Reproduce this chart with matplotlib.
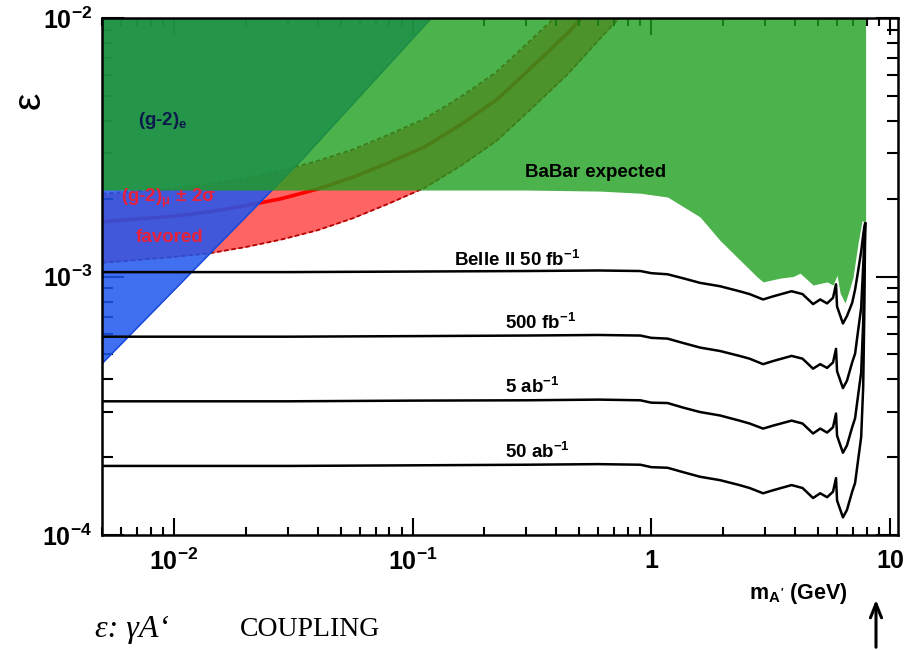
import numpy as np
import matplotlib
matplotlib.use("Agg")
import matplotlib.pyplot as plt
from matplotlib.ticker import LogLocator, NullFormatter, FixedLocator, FixedFormatter

plt.rcParams['font.family'] = ['Liberation Sans', 'DejaVu Sans']
plt.rcParams['mathtext.fontset'] = 'custom'
plt.rcParams['mathtext.rm'] = 'Liberation Sans:bold'
plt.rcParams['mathtext.it'] = 'Liberation Sans:bold'
plt.rcParams['mathtext.bf'] = 'Liberation Sans:bold'

# Belle II sensitivity curves (epsilon vs dark photon mass in GeV)
belle_mass = [0.005, 0.01, 0.03, 0.1, 0.3, 0.6, 0.9, 1.0, 1.17, 1.36, 1.6, 1.94,
              2.34, 2.58, 2.94, 3.24, 3.87, 4.3, 4.76, 5.1, 5.45, 5.77, 5.94, 6.0,
              6.35, 6.6, 6.94, 7.14, 7.35, 7.57, 7.72, 7.8, 7.87]
belle_50fb = [10.4, 10.4, 10.4, 10.45, 10.5, 10.55, 10.5, 10.3, 10.2, 9.84, 9.45, 9.17,
              8.77, 8.55, 8.15, 8.38, 8.77, 8.55, 7.82, 8.15, 7.87, 8.27, 9.33, 7.65,
              6.58, 7.03, 7.9, 8.9, 10.5, 12.5, 14.5, 15.5, 16.0]
belle_500fb = [5.85, 5.85, 5.85, 5.88, 5.91, 5.94, 5.91, 5.79, 5.75, 5.53, 5.31, 5.15,
               4.93, 4.81, 4.58, 4.71, 4.93, 4.81, 4.40, 4.58, 4.43, 4.65, 5.25, 4.30,
               3.70, 3.95, 4.65, 5.03, 6.17, 7.56, 11.0, 13.5, 16.0]
belle_5ab = [3.29, 3.29, 3.29, 3.31, 3.32, 3.34, 3.32, 3.25, 3.24, 3.11, 2.99, 2.90,
             2.77, 2.70, 2.58, 2.65, 2.77, 2.70, 2.47, 2.58, 2.49, 2.61, 2.95, 2.42,
             2.08, 2.22, 2.61, 2.83, 3.47, 4.25, 6.65, 10.5, 16.0]
belle_50ab = [1.85, 1.85, 1.85, 1.86, 1.87, 1.88, 1.87, 1.83, 1.82, 1.75, 1.68, 1.63,
              1.56, 1.52, 1.45, 1.49, 1.56, 1.52, 1.39, 1.45, 1.40, 1.47, 1.66, 1.36,
              1.17, 1.25, 1.47, 1.59, 1.95, 2.39, 3.74, 7.0, 16.0]

# BaBar expected exclusion (lower boundary, x1e-3)
babar_mass = [0.005, 0.1, 0.3, 0.61, 0.9, 1.17, 1.6, 1.94, 2.2, 2.78, 2.94, 3.47,
              3.93, 4.2, 4.76, 5.45, 5.77, 6.0, 6.18, 6.48, 6.81, 7.0, 7.35, 7.64, 7.9]
babar_eps = [2.16, 2.16, 2.16, 2.14, 2.10, 2.03, 1.70, 1.38, 1.23, 0.995, 0.953, 0.986,
             1.0, 1.03, 0.927, 0.953, 0.927, 1.01, 0.863, 0.789, 0.91, 0.995, 1.35, 1.65, 1.6]

# (g-2)_e exclusion boundary
g2e_mass = [0.005, 0.034, 0.12]
g2e_eps = [4.6e-4, 2.8e-3, 1.0e-2]

# (g-2)_mu +-2 sigma favored band (x1e-3)
g2mu_mass = [0.005, 0.01, 0.0141, 0.02, 0.0282, 0.04, 0.0562, 0.079, 0.112, 0.158,
             0.224, 0.316, 0.447, 0.63, 0.79]
g2mu_mid = [1.63, 1.71, 1.78, 1.88, 2.00, 2.18, 2.42, 2.75, 3.17, 3.85, 4.81, 6.46,
            8.75, 12.4, 15.5]
g2mu_hi = [2.09, 2.19, 2.28, 2.41, 2.57, 2.80, 3.10, 3.53, 4.07, 4.94, 6.17, 8.29,
           11.2, 15.9, 19.9]
g2mu_lo = [1.13, 1.19, 1.23, 1.30, 1.39, 1.51, 1.68, 1.91, 2.20, 2.67, 3.34, 4.48,
           6.07, 8.6, 10.75]

x_ticks = [0.01, 0.1, 1, 10]
x_ticklabels = ['$10^{-2}$', '$10^{-1}$', '$1$', '$10$']
y_ticks = [1e-4, 1e-3, 1e-2]
y_ticklabels = ['$10^{-4}$', '$10^{-3}$', '$10^{-2}$']

fig = plt.figure(figsize=(9.14, 6.5), dpi=100)
ax = fig.add_axes([102 / 914, 1 - 535 / 650, 796 / 914, 517 / 650])
ax.set_xscale('log')
ax.set_yscale('log')
ax.set_xlim(0.005, 10.8)
ax.set_ylim(1e-4, 1e-2)

m_mu = np.array(g2mu_mass)
ax.fill_between(m_mu, np.array(g2mu_lo) * 1e-3, np.array(g2mu_hi) * 1e-3,
                color='#ff6464', lw=0, zorder=1)
ax.plot(m_mu, np.array(g2mu_hi) * 1e-3, color='#b00000', lw=1.3, ls=(0, (2.5, 1.5)), zorder=1.2)
ax.plot(m_mu, np.array(g2mu_lo) * 1e-3, color='#b00000', lw=1.3, ls=(0, (2.5, 1.5)), zorder=1.2)
ax.plot(m_mu, np.array(g2mu_mid) * 1e-3, color='#ff0000', lw=2.6, zorder=1.3)

ax.fill_between(g2e_mass, g2e_eps, 1e-2, color='#1e57ee', alpha=0.85, lw=0, zorder=2)
ax.plot(g2e_mass, g2e_eps, color='#1848d8', lw=1.0, zorder=2.1)

ax.fill_between(babar_mass, np.array(babar_eps) * 1e-3, 1e-2, color='#1f9f1f',
                alpha=0.8, lw=0, zorder=3)

for curve in [belle_50fb, belle_500fb, belle_5ab, belle_50ab]:
    ax.plot(belle_mass, np.array(curve) * 1e-4, color='black', lw=1.8, zorder=4)

lab = dict(fontsize=13.5, fontweight='bold', va='center', ha='left', zorder=5)
ax.text(0.0071, 4.0e-3, '(g-2)$_{e}$', color='#0a1a4a', **lab)
ax.text(0.0060, 2.0e-3, '(g-2)$_{μ}$ ± 2σ', color='#e8203a', **lab)
ax.text(0.0069, 1.42e-3, 'favored', color='#e8203a', **lab)
ax.text(0.297, 2.53e-3, 'BaBar expected', color='black', **lab)
ax.text(0.1485, 1.16e-3, 'Belle II 50 fb$^{-1}$', color='black', **lab)
ax.text(0.245, 6.6e-4, '500 fb$^{-1}$', color='black', **lab)
ax.text(0.245, 3.74e-4, '5 ab$^{-1}$', color='black', **lab)
ax.text(0.245, 2.09e-4, '50 ab$^{-1}$', color='black', **lab)

ax.xaxis.set_major_locator(FixedLocator(x_ticks))
ax.xaxis.set_major_formatter(FixedFormatter(x_ticklabels))
ax.yaxis.set_major_locator(FixedLocator(y_ticks))
ax.yaxis.set_major_formatter(FixedFormatter(y_ticklabels))
ax.xaxis.set_minor_locator(LogLocator(base=10, subs=range(2, 10), numticks=20))
ax.yaxis.set_minor_locator(LogLocator(base=10, subs=range(2, 10), numticks=20))
ax.xaxis.set_minor_formatter(NullFormatter())
ax.yaxis.set_minor_formatter(NullFormatter())
ax.tick_params(axis='both', which='both', direction='in', top=True, right=True,
               color='black', width=1.5, labelsize=18)
ax.tick_params(axis='x', which='major', length=12, pad=10)
ax.tick_params(axis='x', which='minor', length=6)
ax.tick_params(axis='y', which='major', length=16, pad=7)
ax.tick_params(axis='y', which='minor', length=8)
for s in ax.spines.values():
    s.set_linewidth(1.8)
    s.set_zorder(6)

fig.text(848 / 914, 1 - 593 / 650, 'm$_{A\'}$ (GeV)', fontsize=15.5, fontweight='bold',
         ha='right', va='center')
fig.text(30 / 914, 1 - 100 / 650, 'ε', fontsize=28, rotation=90, ha='center', va='center')

fig.text(95 / 914, 1 - 630 / 650, 'ε: γA‘', family='Liberation Serif', style='italic',
         fontsize=23, ha='left', va='center')
fig.text(240 / 914, 1 - 630 / 650, 'COUPLING', family='Liberation Serif',
         fontsize=20, ha='left', va='center')

ax.annotate('', xy=(876 / 914, 1 - 597 / 650), xytext=(876 / 914, 0),
            xycoords='figure fraction', textcoords='figure fraction',
            arrowprops=dict(arrowstyle='->,head_length=1.0,head_width=0.4',
                            lw=2.2, color='black'))

fig.savefig('out.png', dpi=100)
